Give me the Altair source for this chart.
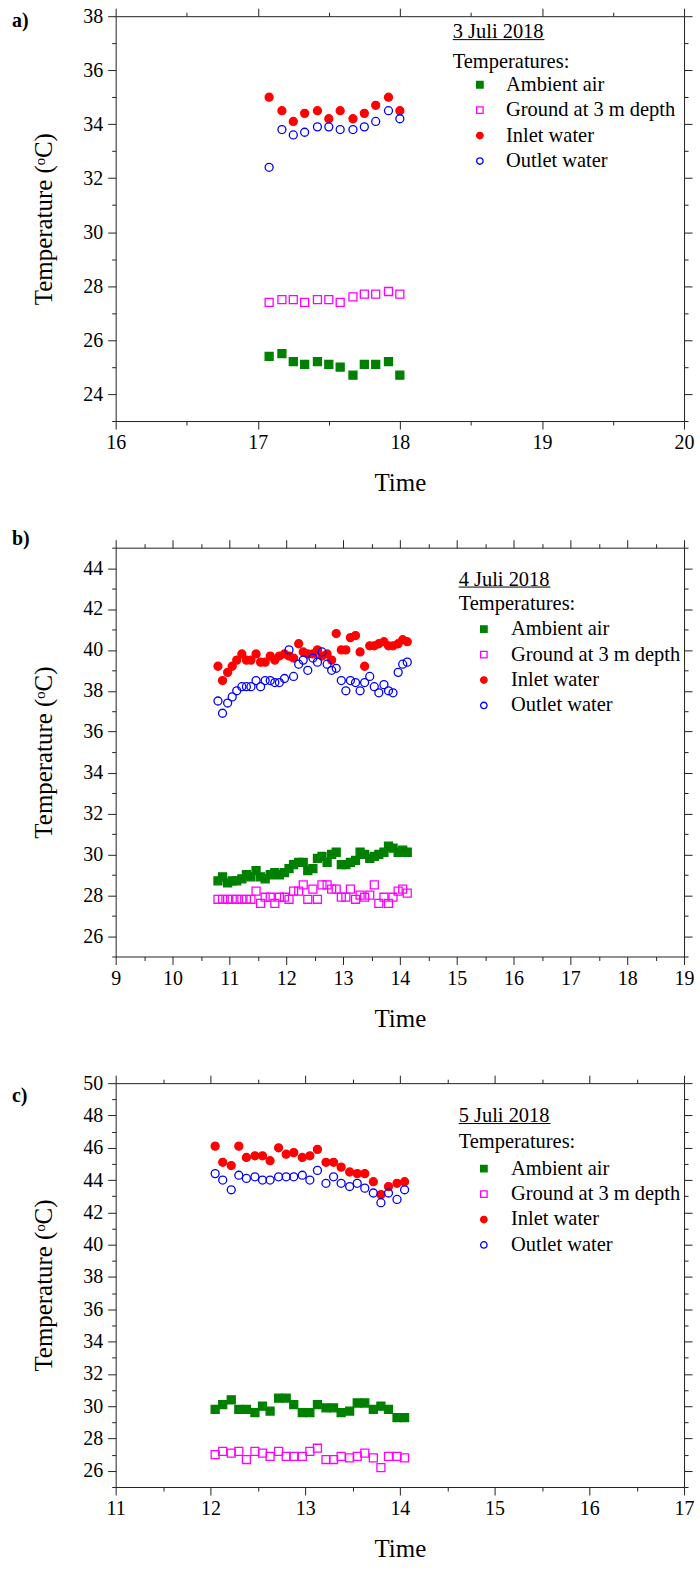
import altair as alt
import pandas as pd

SERIF = "Liberation Serif"
SERIES = ["Ambient air", "Ground at 3 m depth", "Inlet water", "Outlet water"]
COLORS = ["#008000", "#ff00ff", "#ff0000", "#0000ff"]
FILLS = ["#008000", "transparent", "#ff0000", "transparent"]
SHAPES = ["square", "square", "circle", "circle"]

# ---- Panel a: 3 Juli 2018
time_a = [17.08, 17.17, 17.25, 17.33, 17.42, 17.5, 17.58, 17.67, 17.75, 17.83, 17.92, 18.0]
ambient_a = [25.4, 25.5, 25.2, 25.1, 25.2, 25.1, 25.0, 24.7, 25.1, 25.1, 25.2, 24.7]
ground_a = [27.4, 27.5, 27.5, 27.4, 27.5, 27.5, 27.4, 27.6, 27.7, 27.7, 27.8, 27.7]
inlet_a = [35.0, 34.5, 34.1, 34.4, 34.5, 34.2, 34.5, 34.2, 34.4, 34.7, 35.0, 34.5]
outlet_a = [32.4, 33.8, 33.6, 33.7, 33.9, 33.9, 33.8, 33.8, 33.9, 34.1, 34.5, 34.2]

# ---- Panel b: 4 Juli 2018
time_b = [10.80, 10.88, 10.97, 11.05, 11.13, 11.22, 11.30, 11.38, 11.47, 11.55,
          11.63, 11.72, 11.80, 11.88, 11.97, 12.05, 12.13, 12.22, 12.30, 12.38,
          12.47, 12.55, 12.63, 12.72, 12.80, 12.88, 12.97, 13.05, 13.13, 13.22,
          13.30, 13.38, 13.47, 13.55, 13.63, 13.72, 13.80, 13.88, 13.97, 14.05, 14.13]
ambient_b = [28.7, 28.9, 28.6, 28.7, 28.7, 28.8, 29.0, 28.9, 29.2, 28.9,
             28.8, 29.0, 29.1, 29.0, 29.1, 29.3, 29.5, 29.6, 29.6, 29.2,
             29.3, 29.8, 29.9, 29.6, 30.0, 30.1, 29.5, 29.5, 29.6, 29.7,
             30.1, 30.0, 29.8, 29.9, 30.0, 30.1, 30.4, 30.3, 30.1, 30.2, 30.1]
ground_b = [27.8, 27.8, 27.8, 27.8, 27.8, 27.8, 27.8, 27.8, 28.2, 27.6,
            27.9, 27.9, 27.6, 27.9, 27.9, 27.8, 28.2, 28.2, 28.5, 27.8,
            28.3, 27.8, 28.5, 28.5, 28.3, 28.3, 27.9, 27.9, 28.3, 27.8,
            28.0, 27.9, 28.0, 28.5, 27.6, 27.9, 27.6, 27.9, 28.2, 28.3, 28.1]
inlet_b = [39.2, 38.5, 38.9, 39.2, 39.5, 39.8, 39.5, 39.5, 39.8, 39.4,
           39.4, 39.7, 39.5, 39.7, 39.8, 39.7, 39.6, 40.3, 39.9, 39.8,
           39.8, 40.0, 39.7, 39.8, 39.5, 40.8, 40.0, 40.0, 40.6, 40.7,
           39.9, 39.2, 40.2, 40.2, 40.3, 40.4, 40.2, 40.2, 40.3, 40.5, 40.4]
outlet_b = [37.5, 36.9, 37.4, 37.7, 38.0, 38.2, 38.2, 38.2, 38.5, 38.2,
            38.5, 38.5, 38.4, 38.4, 38.6, 40.0, 38.7, 39.3, 39.5, 39.0,
            39.6, 39.4, 39.9, 39.3, 39.0, 39.1, 38.5, 38.0, 38.5, 38.4,
            38.0, 38.4, 38.7, 38.2, 37.9, 38.3, 38.0, 37.9, 38.9, 39.3, 39.4]

# ---- Panel c: 5 Juli 2018
time_c = [12.05, 12.13, 12.22, 12.30, 12.38, 12.47, 12.55, 12.63, 12.72, 12.80,
          12.88, 12.97, 13.05, 13.13, 13.22, 13.30, 13.38, 13.47, 13.55, 13.63,
          13.72, 13.80, 13.88, 13.97, 14.05]
ambient_c = [29.8, 30.1, 30.4, 29.8, 29.8, 29.6, 30.0, 29.7, 30.5, 30.5,
             30.1, 29.6, 29.6, 30.1, 29.9, 29.9, 29.6, 29.7, 30.2, 30.2,
             29.8, 30.0, 29.8, 29.3, 29.3]
ground_c = [27.0, 27.2, 27.1, 27.2, 26.7, 27.2, 27.1, 26.9, 27.2, 26.9,
            26.9, 26.9, 27.2, 27.4, 26.7, 26.7, 26.9, 26.8, 26.9, 27.1,
            26.8, 26.2, 26.9, 26.9, 26.8]
inlet_c = [46.1, 45.1, 44.9, 46.1, 45.4, 45.5, 45.5, 45.2, 46.0, 45.6,
           45.7, 45.4, 45.5, 45.9, 45.1, 45.1, 44.8, 44.5, 44.4, 44.4,
           43.9, 43.1, 43.6, 43.8, 43.9]
outlet_c = [44.4, 44.0, 43.4, 44.3, 44.1, 44.2, 44.0, 44.0, 44.2, 44.2,
            44.2, 44.3, 44.0, 44.6, 43.8, 44.2, 43.8, 43.6, 43.8, 43.5,
            43.2, 42.6, 43.2, 42.8, 43.4]

FS = 20.5


def panel(label, date, times, series_vals, xdom, ydom, height, leg):
    rows = []
    for s, vals in zip(SERIES, series_vals):
        for t, v in zip(times, vals):
            rows.append({"Time": t, "Temp": v, "Series": s})
    df = pd.DataFrame(rows)

    xticks = [xdom[0] + 0.5 * i for i in range(int((xdom[1] - xdom[0]) * 2) + 1)]
    yticks = list(range(ydom[0], ydom[1] + 1))
    xsize = {"condition": {"test": "datum.value % 1 === 0", "value": 8}, "value": 4}
    ysize = {"condition": {"test": "datum.value % 2 === 0", "value": 8}, "value": 4}

    xs = alt.Scale(domain=list(xdom), nice=False, zero=False)
    ys = alt.Scale(domain=list(ydom), nice=False, zero=False)

    legend = alt.Legend(
        title="Temperatures:", orient="none", legendX=leg["x"], legendY=leg["y"],
        symbolOffset=leg["so"], labelOffset=leg["lo"], titleFont=SERIF, titleFontSize=FS,
        titleFontWeight="normal", titleColor="black", labelFont=SERIF,
        labelFontSize=FS, labelColor="black", rowPadding=4.5, titlePadding=leg["tp"],
        symbolSize=42, symbolStrokeWidth=1.3, padding=0, labelLimit=300,
    )

    pts = alt.Chart(df).mark_point(size=64, strokeWidth=1.3, opacity=1, filled=False).encode(
        x=alt.X("Time:Q", scale=xs, axis=alt.Axis(
            title="Time", values=xticks, tickSize=xsize, format=".0f",
            labelExpr="datum.value % 1 === 0 ? datum.label : ''",
            labelFlush=False, labelOverlap=False, labelPadding=4, titlePadding=18)),
        y=alt.Y("Temp:Q", scale=ys, axis=alt.Axis(
            title="Temperature (\u1d52C)", values=yticks, tickSize=ysize, format=".0f",
            labelExpr="datum.value % 2 === 0 ? datum.label : ''",
            labelFlush=False, labelOverlap=False, labelPadding=5, titlePadding=26)),
        shape=alt.Shape("Series:N", scale=alt.Scale(domain=SERIES, range=SHAPES), legend=legend),
        stroke=alt.Stroke("Series:N", scale=alt.Scale(domain=SERIES, range=COLORS), legend=legend),
        fill=alt.Fill("Series:N", scale=alt.Scale(domain=SERIES, range=FILLS), legend=legend),
    )

    mirror = alt.Chart(df).mark_point(opacity=0).encode(
        x=alt.X("Time:Q", scale=xs, axis=alt.Axis(
            orient="top", title=None, labels=False, values=xticks, tickSize=xsize)),
        y=alt.Y("Temp:Q", scale=ys, axis=alt.Axis(
            orient="right", title=None, labels=False, values=yticks, tickSize=ysize)),
    )

    one = pd.DataFrame({"d": [date], "l": [label]})
    date_txt = alt.Chart(one).mark_text(
        align="left", baseline="alphabetic", font=SERIF, fontSize=FS, color="black"
    ).encode(text="d:N", x=alt.value(leg["x"]), y=alt.value(leg["dy"]))
    underline = alt.Chart(one).mark_rule(color="black", strokeWidth=1).encode(
        x=alt.value(leg["x"]), x2=alt.value(leg["x"] + 92), y=alt.value(leg["dy"] + 1.5))
    lab = alt.Chart(one).mark_text(
        align="left", baseline="middle", font=SERIF, fontSize=20, fontWeight="bold", color="black"
    ).encode(text="l:N", x=alt.value(-104), y=alt.value(leg["ly"]))

    return alt.layer(pts, mirror, date_txt, underline, lab).resolve_axis(
        x="independent", y="independent"
    ).properties(width=570, height=height)


pa = panel("a)", "3 Juli 2018", time_a, [ambient_a, ground_a, inlet_a, outlet_a],
           (16, 20), (23, 38), 406,
           {"x": 338, "y": 36, "tp": 2, "dy": 22, "ly": 5, "so": 17, "lo": 16})
pb = panel("b)", "4 Juli 2018", time_b, [ambient_b, ground_b, inlet_b, outlet_b],
           (9, 19), (25, 45), 410,
           {"x": 344, "y": 46, "tp": 5, "dy": 38, "ly": -9, "so": 15, "lo": 17})
pc = panel("c)", "5 Juli 2018", time_c, [ambient_c, ground_c, inlet_c, outlet_c],
           (11, 17), (25, 50), 405,
           {"x": 344, "y": 49, "tp": 6, "dy": 39, "ly": 13, "so": 15, "lo": 17})

chart = alt.vconcat(pa, pb, pc, spacing=127).properties(
    bounds="flush", padding={"left": 12, "top": 4, "right": 6, "bottom": 6},
    background="white",
).resolve_scale(
    shape="independent", stroke="independent", fill="independent"
).resolve_legend(
    shape="independent", stroke="independent", fill="independent"
).configure_view(stroke=None).configure_axis(
    grid=False, domainColor="#222", tickColor="#222", labelColor="black", titleColor="black",
    labelFont=SERIF, titleFont=SERIF, labelFontSize=20, titleFontSize=25,
    titleFontWeight="normal", domainWidth=1, tickWidth=1,
)

chart.save("out.html", embed_options={"renderer": "svg", "actions": False})
